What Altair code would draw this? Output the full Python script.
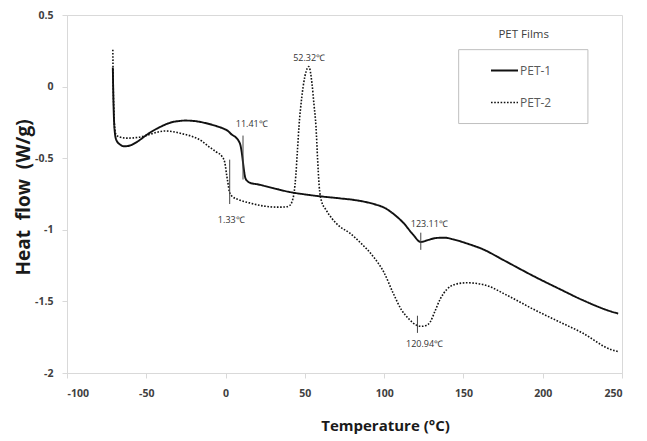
import altair as alt
import pandas as pd

# PET-1 (solid) curve
t1 = [-71.1, -70.9, -70.6, -70.0, -69.0, -66.5, -63.7, -60.0, -55.0, -51.0, -46.0, -42.5, -38.0,
      -34.0, -29.0, -25.6, -20.0, -12.9, -6.0, -2.3, 1.5, 3.9, 6.5, 8.3, 9.4, 10.2, 11.0, 11.8,
      12.5, 13.8, 15.7, 20.0, 25.0, 40.0, 55.0, 71.7, 80.0, 88.0, 95.0, 100.0, 106.0, 112.0,
      118.0, 123.1, 128.0, 133.0, 138.0, 144.0, 152.0, 162.7, 175.0, 194.5, 210.0, 225.0,
      243.0, 247.6]
v1 = [0.133, 0.0, -0.15, -0.3, -0.37, -0.405, -0.417, -0.41, -0.38, -0.347, -0.31, -0.289, -0.265,
      -0.249, -0.24, -0.237, -0.24, -0.254, -0.275, -0.289, -0.31, -0.335, -0.355, -0.38, -0.41,
      -0.46, -0.53, -0.6, -0.64, -0.66, -0.673, -0.682, -0.695, -0.735, -0.76, -0.78, -0.79,
      -0.805, -0.825, -0.845, -0.89, -0.95, -1.03, -1.085, -1.07, -1.057, -1.055, -1.068, -1.095,
      -1.138, -1.21, -1.325, -1.41, -1.49, -1.57, -1.585]

# PET-2 (dotted) curve
t2 = [-71.1, -70.9, -70.5, -70.0, -69.3, -67.0, -62.0, -55.0, -48.0, -42.5, -38.6, -33.0, -27.0,
      -21.4, -15.0, -10.8, -6.0, -2.3, -0.5, 0.8, 1.6, 2.3, 4.0, 8.3, 15.0, 25.2, 33.0, 38.0,
      40.5, 42.0, 43.2, 44.3, 45.3, 46.3, 48.0, 50.0, 51.6, 52.3, 53.2, 54.5, 55.8, 57.0, 58.0,
      59.0, 60.5, 63.3, 67.0, 71.7, 78.0, 85.0, 93.0, 100.0, 105.6, 111.0, 116.0, 120.0, 123.6,
      126.5, 129.0, 132.0, 135.5, 139.5, 145.0, 152.0, 162.7, 178.0, 194.5, 210.0, 225.0, 243.0,
      247.6]
v2 = [0.258, 0.05, -0.15, -0.28, -0.33, -0.351, -0.36, -0.354, -0.335, -0.317, -0.31, -0.315,
      -0.33, -0.347, -0.38, -0.417, -0.455, -0.487, -0.53, -0.626, -0.68, -0.73, -0.765, -0.79,
      -0.812, -0.836, -0.842, -0.84, -0.83, -0.8, -0.742, -0.62, -0.45, -0.277, -0.08, 0.07, 0.13,
      0.14, 0.12, 0.02, -0.13, -0.277, -0.5, -0.69, -0.8, -0.86, -0.92, -0.975, -1.02, -1.09,
      -1.185, -1.3, -1.44, -1.56, -1.627, -1.664, -1.674, -1.668, -1.645, -1.57, -1.48, -1.417,
      -1.38, -1.37, -1.383, -1.46, -1.557, -1.64, -1.72, -1.836, -1.85]

series_names = ["PET-1", "PET-2"]

# annotations
ann_text = ["52.32\u2103", "11.41\u2103", "1.33\u2103", "123.11\u2103", "120.94\u2103"]
ann_tx = [52.7, 16.5, 3.6, 128.5, 125.5]
ann_ty = [0.203, -0.258, -0.934, -0.957, -1.80]

mark_t = [11.0, 2.6, 123.11, 121.0]
mark_y1 = [-0.342, -0.51, -1.02, -1.60]
mark_y2 = [-0.649, -0.82, -1.14, -1.72]

# legend title and legend frame (data units)
legend_title = ["PET Films"]
legend_title_x = [188.0]
legend_title_y = [0.363]
frame_x = [147.0]
frame_x2 = [228.5]
frame_y = [0.258]
frame_y2 = [-0.258]

x_ticks = [-100, -50, 0, 50, 100, 150, 200, 250]
y_ticks = [0.5, 0, -0.5, -1, -1.5, -2]

FONT = "Open Sans"

df = pd.concat([
    pd.DataFrame({"T": t1, "v": v1, "series": series_names[0]}),
    pd.DataFrame({"T": t2, "v": v2, "series": series_names[1]}),
])

xscale = alt.Scale(domain=[-100, 250], nice=False, zero=False)
yscale = alt.Scale(domain=[-2, 0.5], nice=False, zero=False)

x_axis = alt.Axis(values=x_ticks, labelExpr="toString(datum.value)", title="Temperature (°C)",
                  titleFont=FONT, titleFontSize=15, titleFontWeight="bold", titleColor="#1a1a1a",
                  titleX=318, titleY=52, titleBaseline="middle", labelPadding=10)
y_axis = alt.Axis(values=y_ticks, labelExpr="toString(datum.value)",
                  title="Heat \u00a0flow \u00a0(W/g)",
                  titleFont=FONT, titleFontSize=19, titleFontWeight="bold", titleColor="#1a1a1a",
                  titleX=-44, titleY=182, titleBaseline="middle", labelPadding=9)

X = lambda f: alt.X(f, scale=xscale, axis=x_axis)
Y = lambda f: alt.Y(f, scale=yscale, axis=y_axis)

lines = alt.Chart(df).mark_line(interpolate="monotone", color="#111111").encode(
    x=X("T:Q"),
    y=Y("v:Q"),
    strokeDash=alt.StrokeDash(
        "series:N",
        scale=alt.Scale(domain=series_names, range=[[1, 0], [1.6, 1.6]]),
        legend=alt.Legend(
            title=None, orient="none", legendX=392, legendY=36, padding=5,
            symbolType="stroke", symbolSize=729, symbolOffset=26,
            symbolStrokeWidth=1.8, symbolStrokeColor="#111111", rowPadding=11,
            labelFont=FONT, labelFontSize=12, labelColor="#595959", labelOffset=1,
        ),
    ),
    strokeWidth=alt.StrokeWidth(
        "series:N", scale=alt.Scale(domain=series_names, range=[1.9, 1.6]), legend=None
    ),
)

frame_df = pd.DataFrame({"x": frame_x, "x2": frame_x2, "y": frame_y, "y2": frame_y2})
frame = alt.Chart(frame_df).mark_rect(fill="transparent", stroke="#bfbfbf", strokeWidth=1).encode(
    x=X("x:Q"), x2="x2:Q", y=Y("y:Q"), y2="y2:Q"
)

ann_df = pd.DataFrame({"x": ann_tx, "y": ann_ty, "text": ann_text})
texts = alt.Chart(ann_df).mark_text(font=FONT, fontSize=9, color="#333333").encode(
    x=X("x:Q"), y=Y("y:Q"), text="text:N"
)

mk_df = pd.DataFrame({"x": mark_t, "y1": mark_y1, "y2": mark_y2})
marks = alt.Chart(mk_df).mark_rule(color="#444444", strokeWidth=1).encode(
    x=X("x:Q"), y=Y("y1:Q"), y2="y2:Q"
)

lt_df = pd.DataFrame({"x": legend_title_x, "y": legend_title_y, "text": legend_title})
ltitle = alt.Chart(lt_df).mark_text(font=FONT, fontSize=11.5, color="#404040").encode(
    x=X("x:Q"), y=Y("y:Q"), text="text:N"
)

chart = alt.layer(lines, frame, marks, texts, ltitle).properties(
    width=555, height=358,
    autosize=alt.AutoSizeParams(type="none"),
    padding={"left": 59, "top": 7, "right": 17, "bottom": 63},
).configure_view(stroke="#d9d9d9", strokeWidth=1).configure_axis(
    grid=False, domainColor="#d9d9d9", tickColor="#d9d9d9", tickSize=5,
    labelFont=FONT, labelFontSize=10.5, labelFontWeight="bold", labelColor="#404040",
)

chart.save("out.html", embed_options={"renderer": "svg", "actions": False})
